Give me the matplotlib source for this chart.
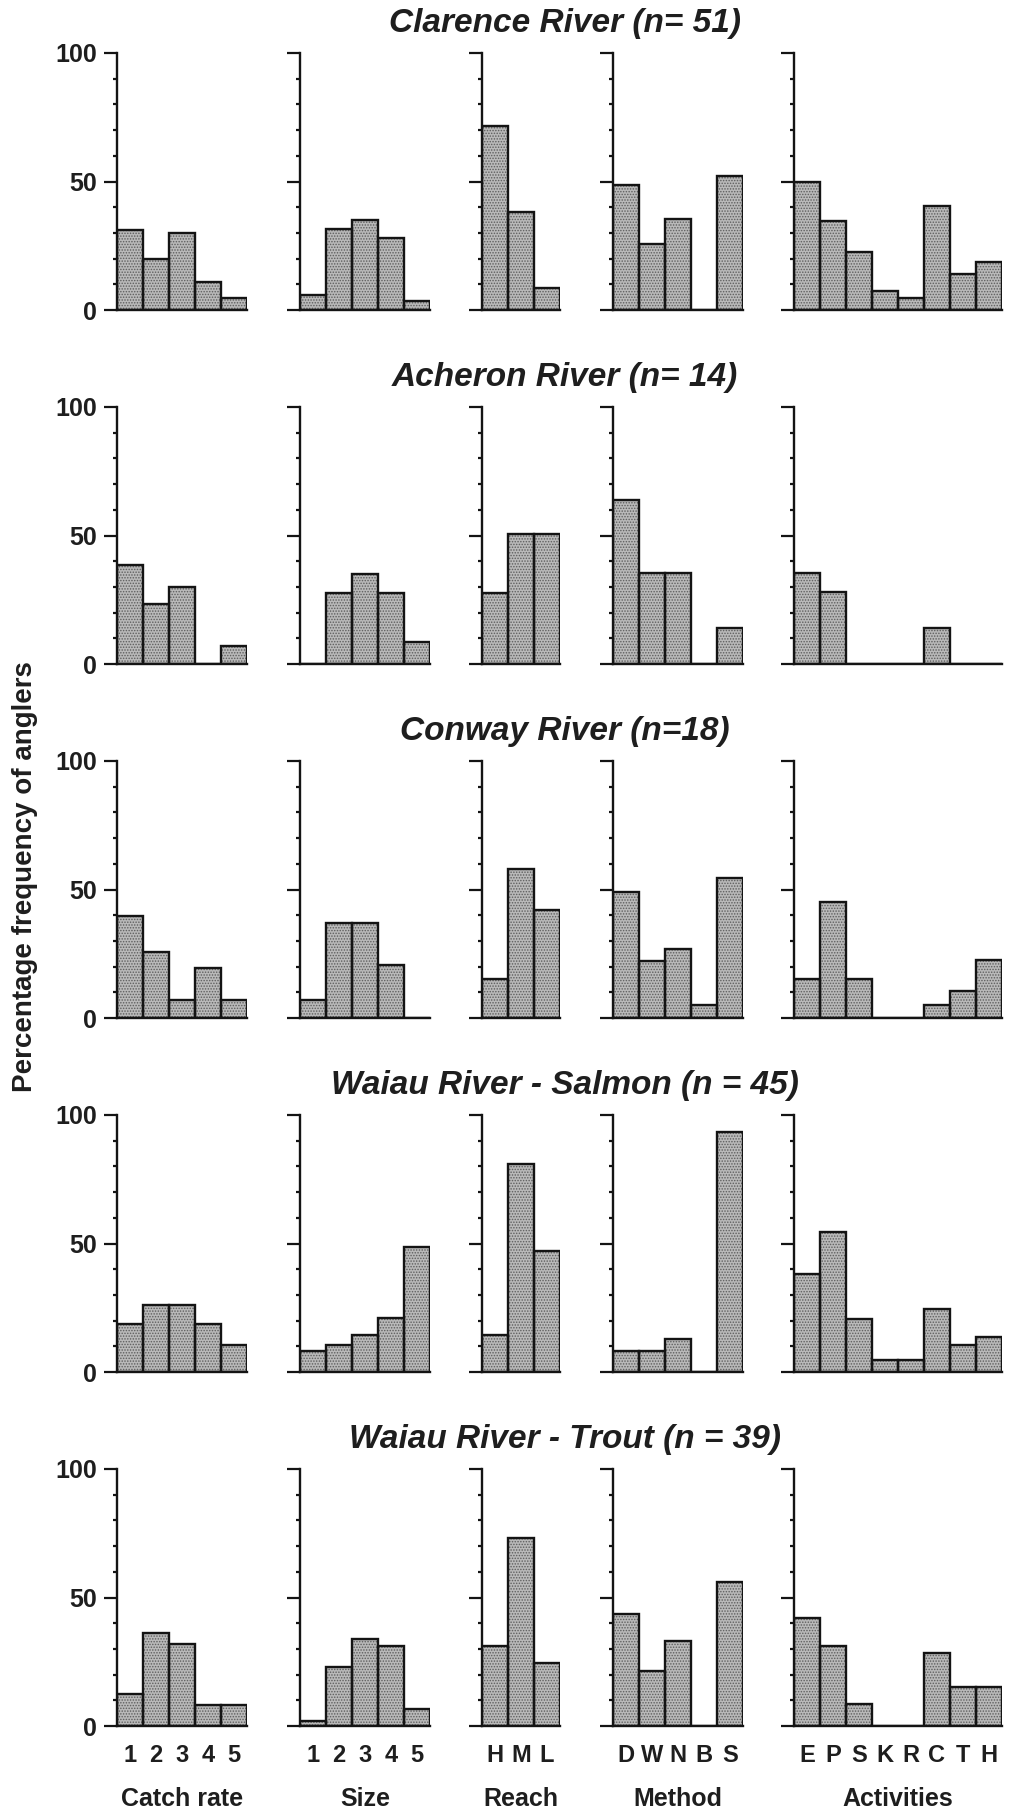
import matplotlib
matplotlib.use('Agg')
import matplotlib.pyplot as plt
import numpy as np

plt.rcParams['font.family'] = ['Liberation Sans', 'DejaVu Sans']
plt.rcParams['hatch.linewidth'] = 0.7

rivers = ["Clarence River (n= 51)", "Acheron River (n= 14)", "Conway River (n=18)",
          "Waiau River - Salmon (n = 45)", "Waiau River - Trout (n = 39)"]

catch_labels = ['1', '2', '3', '4', '5']
size_labels = ['1', '2', '3', '4', '5']
reach_labels = ['H', 'M', 'L']
method_labels = ['D', 'W', 'N', 'B', 'S']
activity_labels = ['E', 'P', 'S', 'K', 'R', 'C', 'T', 'H']

# percentage of anglers, one row per river
catch_rate = [
    [31, 20, 30, 11, 4.5],
    [38.5, 23.5, 30, 0, 7],
    [39.5, 25.5, 7, 19.5, 7],
    [18.5, 26, 26, 18.5, 10.5],
    [12.5, 36, 32, 8, 8],
]
size = [
    [6, 31.5, 35, 28, 3.5],
    [0, 27.5, 35, 27.5, 8.5],
    [7, 37, 37, 20.5, 0],
    [8, 10.5, 14.5, 21, 48.5],
    [2, 23, 34, 31, 6.5],
]
reach = [
    [71.5, 38, 8.5],
    [27.5, 50.5, 50.5],
    [15, 58, 42],
    [14.5, 81, 47],
    [31, 73, 24.5],
]
method = [
    [48.5, 25.5, 35.5, 0, 52],
    [64, 35.5, 35.5, 0, 14],
    [49, 22, 27, 5, 54.5],
    [8, 8, 13, 0, 93.5],
    [43.5, 21.5, 33, 0, 56],
]
activities = [
    [50, 34.5, 22.5, 7.5, 4.5, 40.5, 14, 18.5],
    [35.5, 28, 0, 0, 0, 14, 0, 0],
    [15, 45, 15, 0, 0, 5, 10.5, 22.5],
    [38, 54.5, 20.5, 4.5, 4.5, 24.5, 10.5, 13.5],
    [42, 31, 8.5, 0, 0, 28.5, 15, 15],
]

panels = [
    ("Catch rate", catch_labels, catch_rate),
    ("Size", size_labels, size),
    ("Reach", reach_labels, reach),
    ("Method", method_labels, method),
    ("Activities", activity_labels, activities),
]

W, H = 1011, 1809
fig = plt.figure(figsize=(W / 100, H / 100), dpi=100)

col_left = [117, 300, 482, 613, 794]   # px
bar_px = 26
row_bottom = [310, 664, 1018, 1372, 1726]
row_h = 257
ink = '#141414'

for r in range(5):
    top = row_bottom[r] - row_h
    fig.text(565 / W, 1 - (top - 21) / H, rivers[r], ha='center', va='baseline',
             fontsize=24, fontweight='bold', fontstyle='italic', color='#1e1e1e')
    for c, (name, labels, vals) in enumerate(panels):
        n = len(labels)
        ax = fig.add_axes([col_left[c] / W, 1 - row_bottom[r] / H,
                           n * bar_px / W, row_h / H])
        x = np.arange(n) + 0.5
        v = vals[r]
        # stippled fill, then the outline on top
        ax.bar(x, v, width=1.0, color='#b9b9b9', hatch='......',
               edgecolor='#5e5e5e', linewidth=0, zorder=2)
        ax.bar(x, v, width=1.0, fill=False, edgecolor=ink,
               linewidth=1.7, zorder=3)
        ax.set_xlim(0, n)
        ax.set_ylim(0, 100)
        for s in ['top', 'right']:
            ax.spines[s].set_visible(False)
        for s in ['left', 'bottom']:
            ax.spines[s].set_linewidth(1.7)
            ax.spines[s].set_color(ink)
        ax.set_yticks([0, 50, 100])
        ax.set_yticks([10, 20, 30, 40, 60, 70, 80, 90], minor=True)
        ax.tick_params(axis='y', which='major', length=9.5, width=1.6,
                       color=ink, pad=5)
        ax.tick_params(axis='y', which='minor', length=3, width=1.6,
                       color=ink)
        if c == 0:
            ax.set_yticklabels(['0', '50', '100'], fontsize=18,
                               fontweight='bold', color='#1e1e1e')
        else:
            ax.set_yticklabels([])
        ax.set_xticks(x)
        ax.tick_params(axis='x', length=0, pad=13)
        if r == 4:
            ax.set_xticklabels(labels, fontsize=17, fontweight='bold',
                               color='#1e1e1e')
            fig.text((col_left[c] + n * bar_px / 2) / W, 1 - 1806 / H, name,
                     ha='center', va='baseline', fontsize=18,
                     fontweight='bold', color='#1e1e1e')
        else:
            ax.set_xticklabels([])
        ax.patch.set_alpha(0)

fig.text(25 / W, 1 - 877 / H, "Percentage frequency of anglers", rotation=90,
         ha='center', va='center', fontsize=20, fontweight='bold',
         color='#1e1e1e')

fig.savefig('out.png', dpi=100, facecolor='white')
